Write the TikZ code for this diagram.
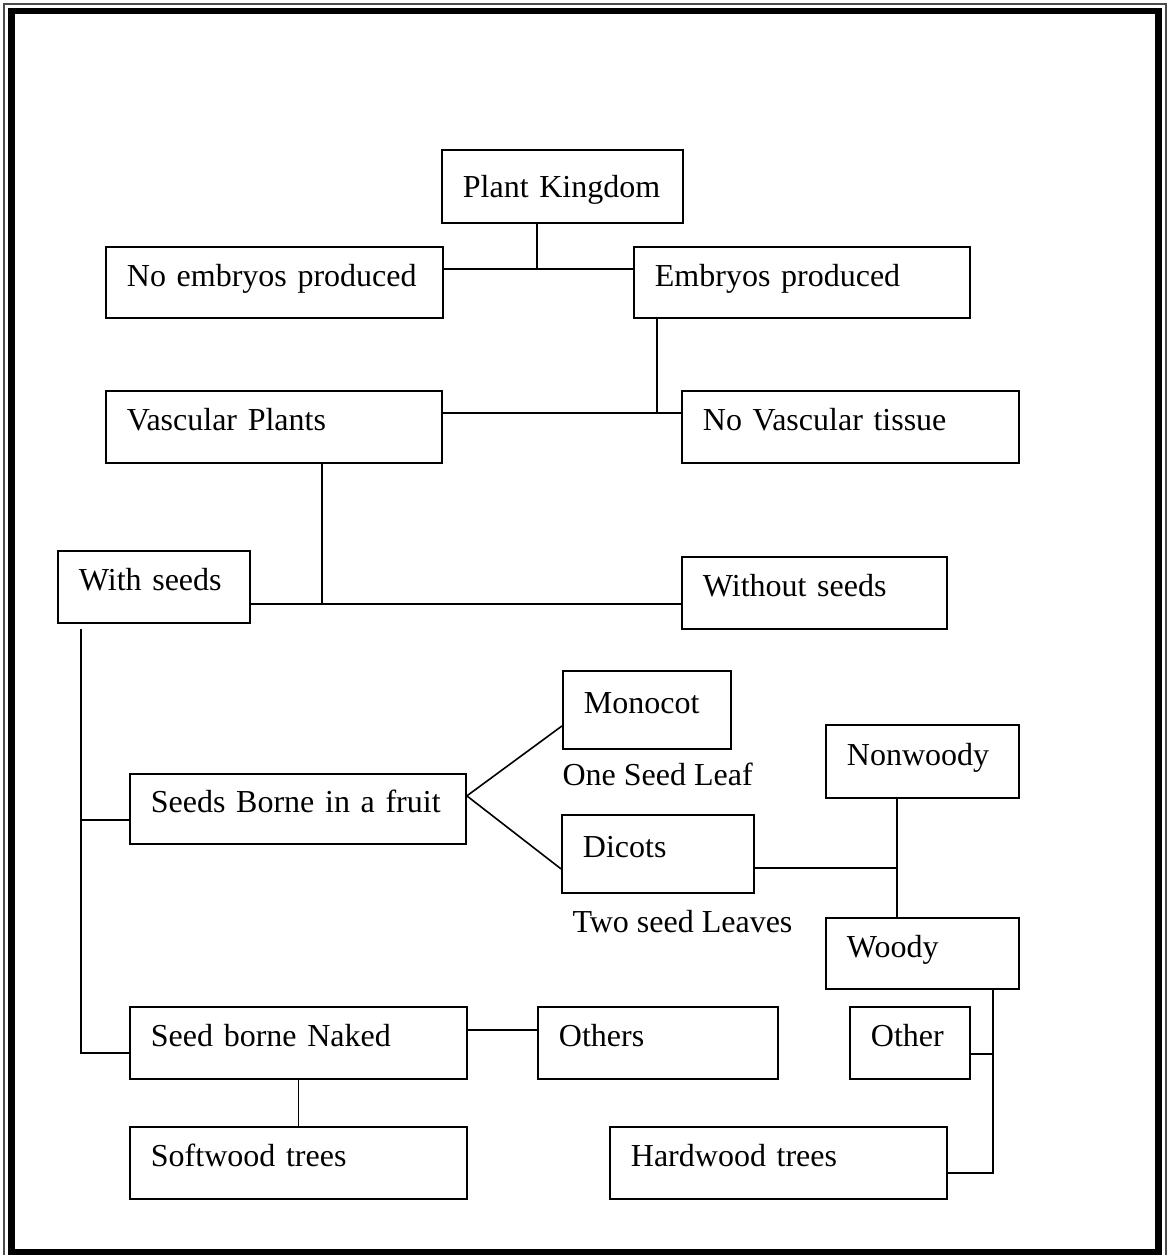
\documentclass[tikz,border=0pt]{standalone}
\usepackage{fontspec}
\setmainfont{Liberation Serif}
\usetikzlibrary{calc}

\begin{document}
\begin{tikzpicture}[x=0.375pt,y=-0.375pt,font=\fontsize{12}{14}\selectfont,
    box/.style 2 args={draw,line width=0.7pt,anchor=north west,
      minimum width=#1*0.375pt,minimum height=#2*0.375pt,
      text width=(#1-42)*0.375pt,align=left,inner xsep=21*0.375pt,
      text height=8pt,text depth=5pt},
    link/.style={line width=0.6pt}]
  \useasboundingbox (0,0) rectangle (1168,1255);
  \draw[line width=0.4pt,black!70] (4,4) rectangle (1166,1262);
  \draw[line width=2.6pt] (11.5,11) rectangle (1158.5,1252.5);

  \node[box={241}{73},text height=11pt,text depth=3pt] (pk) at (441,149) {Plant Kingdom};
  \node[box={337}{71}] (noemb) at (105,246) {No embryos produced};
  \node[box={336}{71}] (emb) at (633,246) {Embryos produced};
  \node[box={336}{72}] (vasc) at (105,390) {Vascular Plants};
  \node[box={337}{72}] (novasc) at (681,390) {No Vascular tissue};
  \node[box={192}{72}] (wseeds) at (57,550) {With seeds};
  \node[box={265}{72}] (woseeds) at (681,556) {Without seeds};
  \node[box={168}{78}] (mono) at (562,670) {Monocot};
  \node[box={336}{70}] (fruit) at (129,773) {Seeds Borne in a fruit};
  \node[box={192}{78}] (dicots) at (561,814) {Dicots};
  \node[box={193}{73}] (nonwoody) at (825,724) {Nonwoody};
  \node[box={193}{71}] (woody) at (825,917) {Woody};
  \node[box={337}{72}] (naked) at (129,1006) {Seed borne Naked};
  \node[box={240}{72}] (others) at (537,1006) {Others};
  \node[box={120}{72}] (other) at (849,1006) {Other};
  \node[box={337}{72}] (soft) at (129,1126) {Softwood trees};
  \node[box={337}{72}] (hard) at (609,1126) {Hardwood trees};
  \node[anchor=base west,inner sep=0] (oneleaf) at (562,785) {One Seed Leaf};
  \node[anchor=base west,inner sep=0] (twoleaves) at (572,932) {Two seed Leaves};

  \coordinate (j1) at (537,269);
  \draw[link] (pk.south -| j1) -- (j1);
  \draw[link] (noemb.east |- j1) -- (emb.west |- j1);
  \coordinate (j2) at (657,413);
  \draw[link] (emb.south -| j2) -- (j2);
  \draw[link] (vasc.east |- j2) -- (novasc.west |- j2);
  \coordinate (j3) at (322,604);
  \draw[link] (vasc.south -| j3) -- (j3);
  \draw[link] (wseeds.east |- j3) -- (woseeds.west |- j3);
  \coordinate (j4) at (81,629);
  \coordinate (j5) at (81,820);
  \coordinate (j6) at (81,1053);
  \draw[link] (j4) -- (j6) -- (naked.west |- j6);
  \draw[link] (j5) -- (fruit.west |- j5);
  \coordinate (j7) at (500,1030);
  \draw[link] (naked.east |- j7) -- (others.west |- j7);
  \draw[link] (naked.south) -- (soft.north);
  \draw[link] ([yshift=-6pt]mono.west) -- ([yshift=4.9pt]fruit.east) -- ([yshift=-5.6pt]dicots.west);
  \coordinate (j8) at (897,868);
  \draw[link] (dicots.east |- j8) -- (j8);
  \draw[link] (nonwoody.south -| j8) -- (woody.north -| j8);
  \coordinate (j9) at (993,1173);
  \coordinate (j10) at (993,1054);
  \draw[link] (woody.south -| j9) -- (j9) -- (hard.east |- j9);
  \draw[link] (other.east |- j10) -- (j10);
\end{tikzpicture}
\end{document}
